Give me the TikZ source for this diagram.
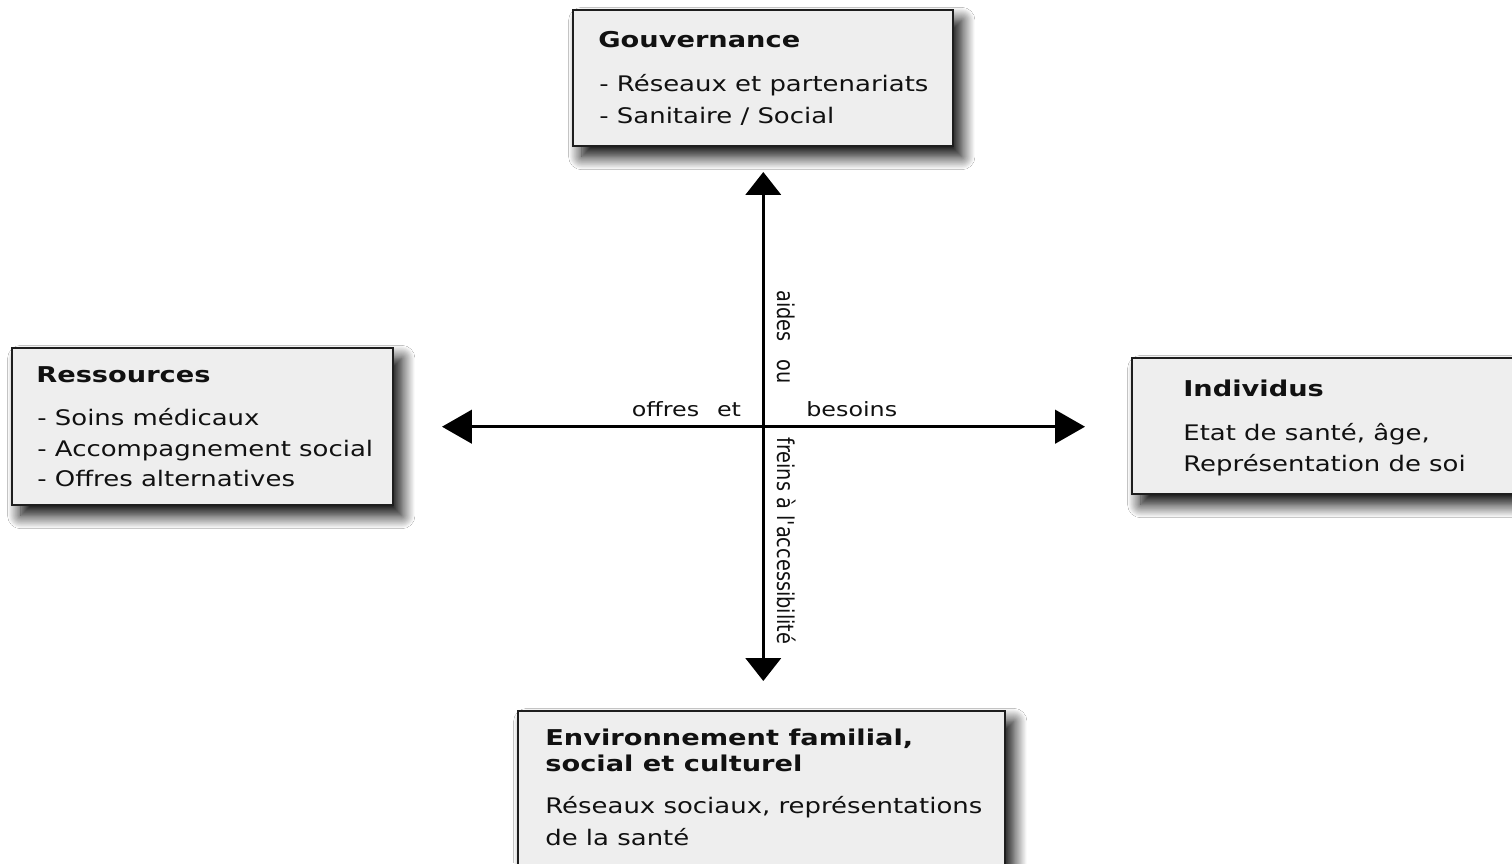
\documentclass[tikz,border=0pt]{standalone}
\usepackage{fontspec}
\setmainfont{DejaVu Sans}[FakeStretch=1.21]
\newfontfamily\titlefont{DejaVu Sans Bold}[FakeStretch=1.25]
\newfontfamily\vfont{DejaVu Sans}[FakeStretch=0.8333]
\usetikzlibrary{arrows.meta,shadows.blur,fit}
\definecolor{boxfill}{HTML}{EEEEEE}
\definecolor{boxline}{HTML}{1E1E1E}
\definecolor{ink}{HTML}{111111}
\tikzset{
  box/.style={draw=boxline, line width=1.1pt, fill=boxfill, inner sep=0pt,
    blur shadow={shadow xshift=5pt, shadow yshift=-6pt, shadow blur radius=7.5pt, shadow blur steps=20, shadow opacity=100}},
  ttl/.style={inner sep=0pt, anchor=base west, text=ink, font=\fontsize{12.4}{14}\titlefont},
  txt/.style={inner sep=0pt, anchor=base west, text=ink, font=\fontsize{12.2}{14}\selectfont},
  hlabel/.style={inner sep=0pt, anchor=base west, text=ink, font=\fontsize{11.2}{13}\selectfont},
  vlabel/.style={inner sep=0pt, anchor=base west, rotate=-90, text=ink, font=\fontsize{13.2}{15}\vfont},
  axis/.style={line width=1.7pt, draw=black},
  vtip/.tip={Triangle[length=13pt,width=20pt]},
  htip/.tip={Triangle[length=17pt,width=19pt]}
}
\begin{document}
\begin{tikzpicture}[x=0.02cm,y=-0.02cm]
\useasboundingbox (0,0) rectangle (1512,863);
\fill[white] (0,0) rectangle (1512,863);
\clip (0,0) rectangle (1512,863);

% boxes
\node[box, fit={(573,10) (953,146)}] (g) {};
\node[box, fit={(12,348) (393,505)}] (r) {};
\node[box, fit={(1132,358) (1540,494)}] (i) {};
\node[box, fit={(518,711) (1005,920)}] (e) {};

% Gouvernance
\node[ttl] (gt) at (598,47.3) {Gouvernance};
\node[txt] (g1) at (599,91.7) {- Réseaux et partenariats};
\node[txt] (g2) at (599,123.3) {- Sanitaire / Social};

% Ressources
\node[ttl] (rt) at (36,382.5) {Ressources};
\node[txt] (r1) at (37,425) {- Soins médicaux};
\node[txt] (r2) at (37,456) {- Accompagnement social};
\node[txt] (r3) at (37,486.5) {- Offres alternatives};

% Individus
\node[ttl] (it) at (1183,396.7) {Individus};
\node[txt] (i1) at (1183,440.7) {Etat de santé, âge,};
\node[txt] (i2) at (1183,471.7) {Représentation de soi};

% Environnement
\node[ttl] (et1) at (545,745) {Environnement familial,};
\node[ttl] (et2) at (545,771.7) {social et culturel};
\node[txt] (e1) at (545,813) {Réseaux sociaux, représentations};
\node[txt] (e2) at (545,845) {de la santé};

% axes
\coordinate (c) at (763.3,426.7);
\coordinate (tN) at (763.3,172);
\coordinate (tS) at (763.3,681);
\coordinate (tW) at (442,426.7);
\coordinate (tE) at (1085,426.7);
\draw[axis, {vtip}-{vtip}] (tN) -- (tS);
\draw[axis, {htip}-{htip}] (tW) -- (tE);

% axis labels
\node[hlabel] (lo) at (631.5,416.7) {offres\hspace{10.2pt}et};
\node[hlabel] (lb) at (806,416.7) {besoins};
\node[vlabel] (la) at (777,290) {aides\hspace{9.9pt}ou};
\node[vlabel] (lf) at (777,437) {freins à l'accessibilité};
\end{tikzpicture}
\end{document}
